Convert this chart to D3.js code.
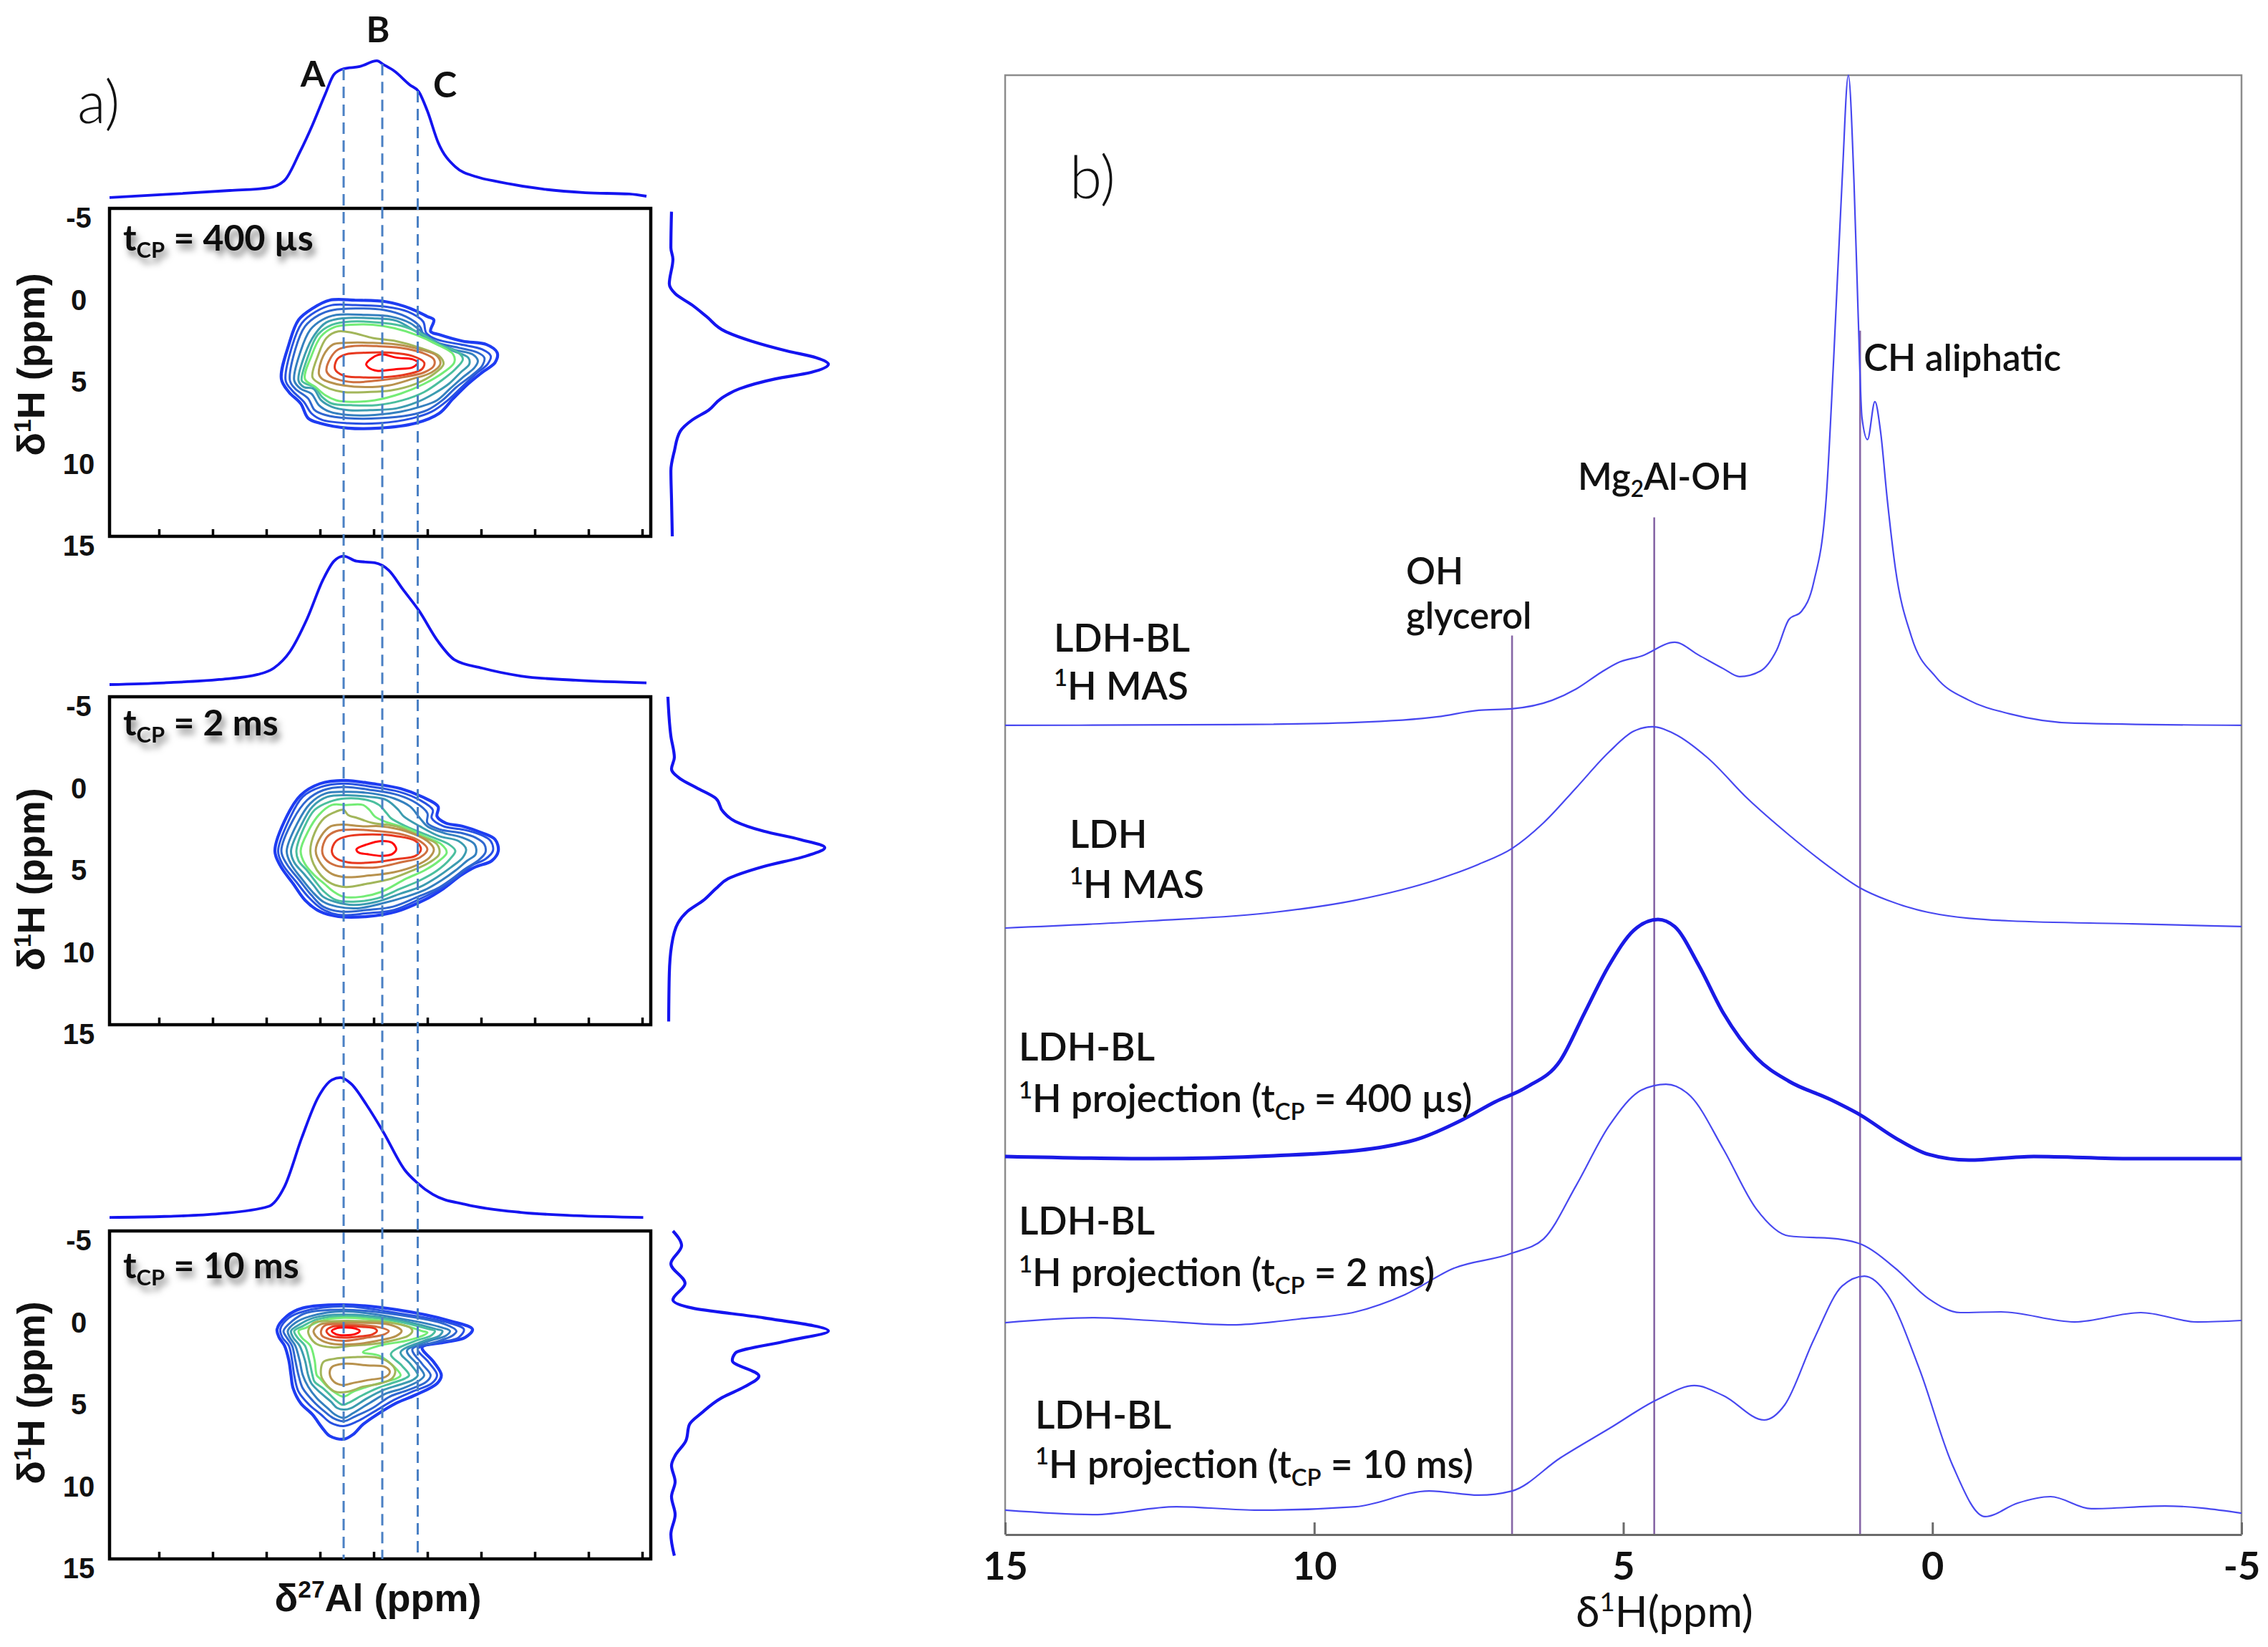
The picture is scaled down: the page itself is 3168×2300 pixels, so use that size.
<!DOCTYPE html>
<html><head><meta charset="utf-8">
<script src="https://cdn.jsdelivr.net/npm/d3@7"></script>
<style>body{margin:0;background:#fff}svg{display:block}</style>
</head><body>
<svg id="c" width="3168" height="2300"></svg>
<script>
// ---------------- DATA ----------------
const alTicks = [30,25,20,15,10,5,0,-5,-10,-15];      // 27Al axis ticks (unlabelled)
const hTicks = [-5,0,5,10,15];                          // 1H axis ticks (panel a)
const bTicks = [15,10,5,0,-5];                          // 1H axis ticks (panel b)
const alMarkers = [["A",12.8],["B",9.2],["C",5.9]];     // dashed 27Al positions
const tcpLabels = ["400 µs","2 ms","10 ms"];

// 27Al projections [ppm, intensity]
const alProj400 = [[34.6,-1],[28.7,1.6],[23.4,4.2],[19.7,6.3],[18.3,11.6],[16.9,32],[15.7,52.4],[14.5,75.3],[13.7,89.5],[12.8,93.7],[11.3,95.3],[9.7,99.5],[9.1,96.8],[8.1,92.1],[6.6,81.6],[5.8,76.8],[5.0,62.6],[4.0,39.5],[2.4,21.6],[0.4,14.2],[-1.7,10.5],[-5.7,5.3],[-9.7,2.6],[-13.8,1.6],[-15.4,0]];
const alProj2ms = [[34.6,0],[29.5,1.3],[24.4,3.7],[20.8,7.4],[19.3,12.1],[17.8,24.2],[16.2,48.4],[14.7,77.4],[13.7,90.7],[12.8,94.4],[11.6,90.7],[9.9,89.5],[8.6,84],[7.3,70.2],[5.8,54.5],[4.0,31.6],[2.5,18.4],[-0.1,12.1],[-3.7,6.3],[-8.8,3.2],[-15.4,1.3]];
const alProj10ms = [[34.6,1],[29.5,1.7],[24.4,3.7],[19.8,9.1],[18.3,23.8],[16.7,59.5],[15.2,88.9],[13.9,102],[13.1,103.7],[12.1,99.2],[10.6,82.9],[9.1,63.7],[7.1,35.8],[6.0,26.8],[4.5,17.9],[1.4,10.5],[-3.7,4.7],[-8.8,2.3],[-15.1,1]];

// 1H projections [ppm, intensity]
const hProj400 = [[-4.8,0.9],[-2.6,0.5],[-1.9,1.8],[-0.4,-0.5],[0.2,3.2],[0.9,14.1],[1.6,23.2],[2.5,35],[3.1,51.8],[3.7,74.5],[4.1,92.7],[4.5,100.5],[5.0,89.5],[5.4,66.8],[6.0,44.1],[6.6,32.3],[7.3,24.5],[7.9,14.1],[8.6,6.4],[9.8,2.7],[11.0,0.5],[12.7,0.9],[15.0,1.4]];
const hProj2ms = [[-5,-1.4],[-2.6,0.5],[-1.3,2.7],[-0.6,0.9],[0.0,6.4],[0.55,16.8],[1.2,29.1],[2.0,33.6],[2.6,41.4],[3.2,59.5],[3.7,82.3],[4.2,98.2],[4.7,86.8],[5.35,59.5],[6.1,36.8],[6.7,29.1],[7.4,21.4],[8.1,10.9],[8.8,5],[10.2,0.9],[11.9,-0.5],[14.8,-0.9]];
const hProj10ms = [[-5.0,1.8],[-4.1,7.3],[-3.0,0.5],[-1.8,9.5],[-0.8,1.8],[-0.3,14.1],[0.3,59.5],[1.1,100.5],[1.7,74.5],[2.45,41.4],[2.9,39.5],[3.85,56.4],[4.5,47.3],[5.2,32.3],[6.1,20],[6.8,12.3],[7.8,10],[8.7,3.2],[9.3,0.9],[10.3,3.2],[11.2,0.9],[12.3,3.2],[13.5,0.5],[14.8,2.7]];

// contour rings [level, [[27Al ppm, 1H ppm], ...]]
const rings400 = [
[1,[[18.6,5.4],[17.9,3.3],[17.0,1.8],[15.7,1.1],[14.1,0.6],[11.7,0.6],[8.8,0.7],[6.6,1.1],[5.0,1.6],[4.4,1.8],[4.7,2.5],[3.9,2.7],[1.7,3.1],[-0.5,3.3],[-1.5,3.8],[-1.3,4.4],[-0.1,5.0],[1.2,5.7],[2.6,6.6],[3.9,7.5],[6.1,8.1],[9.5,8.4],[12.4,8.4],[15.0,8.1],[16.1,7.8],[16.8,6.9],[17.9,6.2]]],
[2,[[18.2,5.5],[17.6,3.4],[16.7,2.0],[15.4,1.3],[13.9,0.9],[11.7,0.9],[8.8,1.0],[6.8,1.3],[5.4,1.9],[5.1,2.6],[4.1,3.0],[1.9,3.3],[-0.1,3.6],[-0.9,4.0],[-0.6,4.5],[0.5,5.1],[1.8,5.9],[3.1,6.7],[4.6,7.4],[6.4,7.8],[9.5,8.1],[12.4,8.1],[14.8,7.9],[15.8,7.5],[16.5,6.8],[17.6,6.1]]],
[3,[[17.8,5.5],[17.3,3.6],[16.4,2.2],[15.1,1.5],[13.8,1.2],[11.7,1.1],[9.0,1.2],[7.0,1.6],[5.7,2.2],[5.3,2.8],[4.1,3.2],[2.1,3.5],[0.3,3.8],[-0.3,4.1],[-0.1,4.6],[0.9,5.2],[2.3,5.9],[3.6,6.7],[5.0,7.3],[6.6,7.6],[9.5,7.8],[12.4,7.8],[14.5,7.6],[15.5,7.3],[16.1,6.6],[17.3,6.0]]],
[4,[[17.4,5.5],[16.8,3.7],[15.9,2.4],[14.8,1.8],[13.5,1.5],[10.6,1.5],[8.4,1.6],[6.6,2.0],[4.8,2.9],[2.6,3.6],[0.8,3.9],[0.3,4.3],[0.6,4.7],[1.7,5.3],[2.9,6.0],[4.1,6.7],[5.7,7.1],[7.5,7.4],[9.9,7.6],[12.4,7.6],[14.1,7.4],[15.1,7.0],[15.8,6.3],[16.8,6.0]]],
[5,[[17.0,5.5],[16.4,3.9],[15.5,2.7],[14.4,1.95],[12.8,1.7],[10.1,1.7],[7.9,1.85],[6.1,2.5],[4.4,3.2],[2.6,3.7],[1.2,4.1],[1.1,4.5],[1.9,5.0],[3.0,5.7],[4.4,6.3],[5.9,6.8],[7.9,7.2],[10.1,7.3],[12.4,7.3],[13.9,7.1],[14.9,6.7],[15.6,6.0],[16.5,5.9]]],
[6,[[16.7,5.5],[16.1,4.0],[15.2,2.7],[13.9,2.1],[12.1,1.9],[9.7,1.95],[7.5,2.15],[5.7,2.6],[3.9,3.3],[2.1,3.8],[1.7,4.2],[2.4,4.8],[3.7,5.5],[5.3,6.2],[7.3,6.7],[9.7,7.0],[12.1,7.0],[13.9,6.9],[14.8,6.5],[15.5,5.9],[16.3,5.7]]],
[7,[[16.4,5.4],[15.8,4.0],[14.9,2.8],[13.7,2.25],[12.1,2.1],[10.1,2.1],[8.1,2.3],[6.1,2.7],[4.1,3.3],[2.6,3.9],[2.5,4.4],[3.5,5.0],[5.3,5.7],[7.5,6.3],[9.9,6.7],[12.1,6.8],[13.5,6.7],[14.5,6.4],[15.4,5.9]]],
[8,[[15.7,5.3],[15.2,4.0],[14.4,2.9],[13.3,2.5],[11.9,2.6],[10.1,2.9],[7.9,3.1],[5.7,3.5],[3.9,4.0],[3.5,4.5],[4.4,5.1],[6.1,5.7],[8.4,6.1],[10.6,6.2],[12.8,6.2],[14.1,6.0],[15.0,5.7]]],
[9,[[15.1,5.1],[14.7,4.0],[13.8,3.3],[12.6,3.2],[10.1,3.2],[7.9,3.3],[5.7,3.6],[4.1,4.0],[3.8,4.5],[4.6,5.0],[6.4,5.4],[8.6,5.8],[10.8,5.9],[12.8,5.8],[14.1,5.6],[14.8,5.4]]],
[10,[[14.4,4.9],[14.0,4.1],[13.3,3.6],[11.9,3.4],[9.7,3.4],[7.5,3.5],[5.5,3.8],[4.4,4.2],[4.4,4.6],[5.3,5.0],[7.3,5.3],[9.7,5.5],[11.9,5.6],[13.5,5.4],[14.1,5.2]]],
[11,[[13.6,4.8],[13.4,4.2],[12.6,3.9],[10.6,3.8],[8.4,3.8],[6.4,4.0],[5.3,4.4],[5.5,4.8],[6.8,5.1],[9.0,5.3],[11.3,5.3],[12.8,5.2]]],
[12,[[10.7,4.5],[10.1,4.1],[9.3,3.9],[7.9,4.1],[6.4,4.2],[5.9,4.4],[6.4,4.7],[7.9,4.8],[9.7,4.9],[10.5,4.7]]]
];
const rings2ms = [
[1,[[19.2,4.4],[18.1,2.3],[16.8,1.0],[15.0,0.3],[12.8,0.1],[10.1,0.3],[7.5,0.6],[5.5,1.1],[4.0,1.7],[4.1,2.3],[3.3,2.7],[1.7,2.9],[-0.1,3.3],[-1.3,3.7],[-1.6,4.4],[-1.0,5.0],[0.6,5.4],[1.9,5.9],[3.5,6.7],[5.3,7.4],[7.9,8.1],[10.6,8.4],[13.3,8.4],[15.0,8.1],[16.4,7.4],[17.5,6.4],[18.7,5.3]]],
[2,[[18.9,4.4],[17.8,2.4],[16.6,1.1],[14.9,0.5],[12.8,0.3],[10.1,0.5],[7.6,0.8],[5.7,1.3],[4.5,1.9],[4.6,2.4],[3.5,2.9],[1.7,3.1],[0.1,3.4],[-0.9,3.8],[-1.1,4.4],[-0.4,4.9],[0.9,5.3],[2.2,6.0],[3.8,6.7],[5.6,7.3],[8.1,8.0],[10.6,8.2],[13.3,8.3],[14.9,7.9],[16.1,7.2],[17.2,6.3],[18.5,5.2]]],
[3,[[18.6,4.4],[17.5,2.5],[16.2,1.3],[14.7,0.7],[12.8,0.5],[10.1,0.7],[7.7,1.0],[6.0,1.5],[5.0,2.1],[5.0,2.7],[3.8,3.1],[1.9,3.3],[0.5,3.6],[-0.3,4.0],[-0.4,4.5],[0.3,5.0],[1.5,5.5],[2.7,6.1],[4.1,6.7],[5.9,7.2],[8.2,7.8],[10.6,8.0],[13.1,8.1],[14.7,7.8],[15.8,7.1],[16.9,6.2],[18.1,5.2]]],
[4,[[18.1,4.4],[17.1,2.7],[15.9,1.5],[14.5,0.9],[12.6,0.8],[10.1,0.9],[8.1,1.2],[6.6,1.7],[5.7,2.4],[5.0,2.9],[3.5,3.3],[1.7,3.6],[0.6,4.0],[0.5,4.6],[1.3,5.0],[2.4,5.6],[3.7,6.2],[5.3,6.8],[7.0,7.2],[9.2,7.6],[11.5,7.9],[13.4,7.8],[14.7,7.5],[15.7,6.9],[16.7,6.1],[17.7,5.2]]],
[5,[[17.7,4.4],[16.8,2.9],[15.7,1.7],[14.3,1.1],[12.6,1.0],[10.4,1.1],[8.8,1.3],[7.7,1.9],[7.2,2.3],[5.7,2.9],[3.9,3.5],[2.1,3.8],[1.4,4.3],[1.7,4.8],[2.8,5.4],[4.1,6.0],[5.7,6.6],[7.5,7.0],[9.7,7.5],[11.9,7.7],[13.6,7.5],[14.7,7.2],[15.6,6.5],[16.5,5.8],[17.4,5.1]]],
[6,[[17.2,4.4],[16.5,3.0],[15.5,1.9],[14.1,1.4],[12.6,1.2],[10.6,1.3],[9.5,1.6],[8.8,2.1],[8.4,2.4],[7.0,2.9],[4.8,3.5],[3.0,4.0],[2.4,4.4],[2.9,4.9],[4.1,5.6],[5.7,6.2],[7.5,6.7],[9.7,7.3],[11.9,7.5],[13.5,7.4],[14.6,6.9],[15.5,6.2],[16.2,5.6],[17.0,5.0]]],
[7,[[16.8,4.4],[16.1,3.2],[15.1,2.2],[13.9,1.6],[12.6,1.6],[11.0,1.6],[10.4,1.9],[9.9,2.3],[9.0,2.6],[7.0,3.0],[5.0,3.6],[3.7,4.0],[3.2,4.5],[3.9,5.0],[5.3,5.6],[7.0,6.1],[9.3,6.9],[11.2,7.2],[12.8,7.2],[13.7,6.9],[14.6,6.4],[15.5,5.9],[16.4,5.2]]],
[8,[[15.9,4.4],[15.5,3.3],[14.6,2.4],[13.5,2.0],[12.8,1.9],[12.4,2.2],[11.5,2.4],[10.1,2.7],[7.9,2.9],[5.7,3.5],[4.1,4.0],[3.9,4.6],[4.8,5.1],[6.4,5.6],[8.4,6.1],[10.6,6.4],[12.6,6.6],[13.9,6.4],[14.9,5.9],[15.6,5.2]]],
[9,[[15.4,4.4],[14.9,3.5],[14.0,2.9],[13.0,2.8],[11.0,2.9],[9.3,2.9],[7.0,3.2],[5.0,3.8],[4.4,4.3],[4.8,4.8],[6.1,5.3],[8.1,5.7],[10.4,5.9],[12.6,6.0],[13.9,5.8],[14.9,5.2]]],
[10,[[14.8,4.4],[14.4,3.6],[13.5,3.2],[11.7,3.1],[9.5,3.2],[7.3,3.4],[5.7,3.8],[5.0,4.3],[5.7,4.8],[7.5,5.1],[9.7,5.4],[11.9,5.4],[13.5,5.3],[14.5,4.9]]],
[11,[[13.9,4.4],[13.5,3.8],[12.4,3.5],[10.1,3.4],[7.9,3.5],[6.1,3.8],[5.6,4.3],[6.1,4.7],[7.9,4.9],[10.1,5.1],[12.4,5.1],[13.6,4.8]]],
[12,[[11.6,4.3],[10.6,4.0],[9.3,3.8],[8.3,3.9],[7.9,4.3],[8.3,4.6],[9.3,4.7],[10.6,4.6],[11.4,4.5]]]
];
const rings10ms = [
[1,[[19.0,1.0],[18.1,0.2],[16.6,-0.3],[12.8,-0.5],[7.9,-0.2],[2.8,0.5],[0.8,1.0],[1.5,1.5],[3.5,1.8],[5.5,2.1],[4.4,3.0],[3.7,3.8],[4.1,4.3],[6.1,5.0],[7.9,5.5],[9.7,6.2],[11.0,6.8],[11.9,7.4],[12.8,7.7],[14.1,7.5],[14.8,7.0],[15.7,6.2],[16.8,5.5],[17.5,4.6],[17.7,3.8],[17.9,2.9],[18.3,2.0],[18.8,1.5]]],
[2,[[18.7,1.0],[17.9,0.3],[16.5,-0.1],[12.8,-0.4],[7.9,0.0],[3.0,0.6],[1.6,1.0],[2.1,1.5],[3.9,1.8],[5.9,2.2],[4.9,3.0],[4.1,3.8],[4.6,4.3],[6.4,4.8],[8.1,5.3],[9.9,6.0],[11.5,6.6],[12.8,6.9],[14.0,6.7],[14.9,6.2],[16.0,5.6],[17.0,4.8],[17.4,3.8],[17.6,2.9],[17.9,2.0],[18.5,1.5]]],
[3,[[18.4,1.1],[17.6,0.5],[16.3,0.0],[12.8,-0.2],[7.9,0.1],[3.3,0.7],[2.3,1.1],[2.7,1.4],[4.4,1.8],[6.4,2.2],[5.5,3.1],[4.7,3.8],[5.1,4.2],[6.8,4.7],[8.5,5.1],[10.1,5.8],[11.7,6.3],[12.8,6.6],[13.8,6.4],[14.6,6.0],[15.6,5.4],[16.6,4.6],[17.0,3.8],[17.3,2.9],[17.6,2.0],[18.1,1.5]]],
[4,[[18.0,1.1],[17.3,0.6],[15.9,0.2],[12.8,-0.1],[7.9,0.3],[3.6,0.9],[2.9,1.1],[3.3,1.4],[4.8,1.7],[6.9,2.3],[6.0,3.1],[5.3,3.8],[5.7,4.1],[7.3,4.6],[8.8,4.9],[10.4,5.5],[11.9,6.1],[12.8,6.4],[13.6,6.2],[14.3,5.8],[15.3,5.2],[16.1,4.5],[16.6,3.8],[16.9,2.9],[17.3,2.0],[17.8,1.5]]],
[5,[[17.7,1.1],[16.9,0.7],[15.6,0.3],[12.8,0.1],[7.9,0.4],[4.1,1.0],[3.6,1.1],[3.9,1.4],[5.3,1.7],[7.5,2.4],[6.6,3.1],[5.9,3.8],[6.4,4.1],[7.7,4.4],[9.1,4.7],[10.6,5.2],[12.1,5.8],[12.8,5.9],[13.4,5.8],[14.0,5.4],[14.9,4.9],[15.8,4.3],[16.1,3.8],[16.4,2.9],[16.9,2.0],[17.5,1.5]]],
[6,[[17.4,1.1],[16.6,0.8],[15.3,0.4],[12.8,0.2],[7.9,0.5],[4.8,1.0],[4.3,1.1],[4.7,1.4],[6.1,1.7],[8.4,2.5],[7.4,3.2],[6.7,3.8],[7.1,4.0],[8.4,4.3],[9.7,4.6],[11.0,5.0],[12.4,5.5],[12.9,5.6],[13.4,5.4],[13.9,5.1],[14.7,4.6],[15.5,4.2],[15.7,3.8],[16.0,2.9],[16.4,2.0],[17.1,1.5]]],
[7,[[17.0,1.1],[16.3,0.9],[15.0,0.5],[12.8,0.3],[8.1,0.6],[5.5,1.1],[5.0,1.2],[5.5,1.4],[7.0,1.7],[9.5,2.0],[11.0,2.4],[9.5,2.6],[8.4,3.1],[7.5,3.8],[7.9,4.0],[9.0,4.2],[10.6,4.5],[11.9,4.8],[12.8,5.1],[13.5,4.9],[14.3,4.5],[15.0,4.0],[15.3,3.8],[15.5,2.9],[15.9,2.0],[16.7,1.5]]],
[8,[[16.1,1.1],[15.6,0.6],[13.9,0.5],[10.8,0.5],[8.4,0.6],[6.6,0.9],[6.4,1.1],[6.8,1.4],[8.4,1.7],[10.1,1.9],[12.1,2.0],[13.9,2.1],[15.3,1.9],[15.9,1.5]]],
[8,[[14.9,3.8],[14.7,3.0],[13.7,2.8],[11.9,2.7],[9.9,2.7],[8.6,3.0],[8.0,3.5],[8.3,4.0],[9.4,4.3],[11.0,4.5],[12.4,4.8],[13.6,4.8],[14.5,4.3]]],
[9,[[15.6,1.1],[15.0,0.7],[13.5,0.6],[10.8,0.6],[8.6,0.7],[7.5,1.0],[7.4,1.1],[7.9,1.4],[9.7,1.7],[11.7,1.9],[13.7,1.9],[14.8,1.7],[15.4,1.4]]],
[9,[[14.1,3.7],[13.9,3.3],[12.8,3.1],[10.6,3.2],[8.9,3.3],[8.5,3.6],[8.9,3.9],[10.6,4.1],[12.1,4.3],[12.9,4.4],[13.7,4.2]]],
[10,[[14.9,1.1],[14.5,0.75],[13.0,0.7],[10.8,0.75],[9.3,0.9],[8.6,1.1],[9.0,1.3],[10.6,1.5],[12.6,1.7],[14.1,1.6],[14.8,1.4]]],
[11,[[14.4,1.1],[13.9,0.85],[12.8,0.8],[11.0,0.85],[9.9,0.95],[9.7,1.1],[10.1,1.3],[11.5,1.45],[13.0,1.5],[14.0,1.4]]],
[12,[[13.9,1.1],[13.4,0.92],[12.6,0.88],[11.7,0.95],[11.3,1.1],[11.7,1.28],[12.7,1.36],[13.5,1.3]]]
];

// panel b : 1H spectra [ppm, intensity above own baseline]
const specNames = ["LDH-BL 1H MAS","LDH 1H MAS","tCP 400 µs","tCP 2 ms","tCP 10 ms"];
const specOffsets = [554.5, 415.6, 258.6, 145.7, 16.2];
const specLdhBlMas = [[15,0],[11.32,0.5],[9.33,2.0],[8.0,5.9],[7.34,10.3],[6.81,11.3],[6.15,17.2],[5.76,25.0],[5.36,36.3],[5.1,42.7],[4.7,47.6],[4.17,56.9],[3.78,48.1],[3.38,38.8],[3.12,33.4],[2.78,37.3],[2.52,51.5],[2.32,72.6],[2.12,78.0],[1.92,98.1],[1.72,154.6],[1.6,248.8],[1.46,373.9],[1.36,445.5],[1.27,373.9],[1.2,279.7],[1.14,211.0],[1.05,195.8],[0.93,221.8],[0.84,201.7],[0.73,154.6],[0.6,107.9],[0.34,60.8],[-0.06,32.9],[-0.59,17.2],[-1.25,7.9],[-2.3,1.5],[-5,0]];
const specLdhMas = [[15,0],[12.64,4.9],[10.65,10.8],[9.33,19.1],[8.0,33.4],[7.34,43.7],[6.8,54.5],[6.29,72.1],[5.76,96.2],[5.23,120.7],[4.83,134.9],[4.53,137.9],[4.17,133.0],[3.64,116.8],[2.98,88.3],[2.32,63.8],[1.66,41.7],[1.17,27.5],[0.73,19.1],[0.07,10.8],[-1.25,4.9],[-3.23,2.9],[-5,1.0]];
const spec400 = [[15,0.5],[12.64,-1.0],[10.65,1.0],[9.06,5.9],[8.27,13.2],[7.61,25.5],[7.08,37.8],[6.56,48.1],[6.02,66.2],[5.63,98.6],[5.23,131.5],[4.83,155.5],[4.44,162.9],[4.17,158.0],[3.78,131.5],[3.38,98.6],[2.85,68.2],[2.32,52.0],[1.66,39.7],[1.17,29.0],[0.6,13.2],[0.07,2.0],[-0.59,-2.0],[-1.64,0.5],[-3.23,-1.0],[-5,-1.0]];
const spec2ms = [[15,-0.5],[13.56,2.9],[12.64,1.0],[11.32,-2.0],[10.25,2.0],[9.33,6.9],[8.54,18.6],[7.74,36.8],[6.8,47.1],[6.29,56.9],[5.76,93.7],[5.23,134.4],[4.7,159.0],[4.31,162.9],[3.91,154.6],[3.38,118.3],[2.85,77.5],[2.32,58.9],[1.53,56.9],[1.14,53.0],[0.6,36.8],[0.07,16.2],[-0.45,6.4],[-1.11,6.9],[-2.3,0],[-3.37,6.4],[-4.29,0],[-5,1.0]];
const spec10ms = [[15,0.5],[13.56,-2.5],[12.23,2.9],[10.91,0.5],[9.33,2.9],[8.14,13.7],[7.34,10.8],[6.8,13.7],[6.02,36.3],[5.23,56.4],[4.44,76.5],[3.85,85.9],[3.38,79.0],[2.72,62.3],[2.39,72.6],[1.92,117.3],[1.46,154.1],[1.1,160.9],[0.73,148.2],[0.21,97.2],[-0.32,31.9],[-0.85,-3.9],[-1.38,5.4],[-1.91,9.8],[-2.57,1.5],[-3.76,3.4],[-5,-1.5]];
const assignPpm = [6.8, 4.5, 1.17];          // OH glycerol, Mg2Al-OH, CH aliphatic
const assignTop = [616, 697, 825];           // top of each marker line (intensity units)

// ---------------- LAYOUT ----------------
const svg = d3.select("#c");
svg.append("rect").attr("width",3168).attr("height",2300).attr("fill","#fff");
const defs = svg.append("defs");
defs.append("filter").attr("id","sh").attr("x","-20%").attr("y","-50%").attr("width","150%").attr("height","220%")
  .append("feDropShadow").attr("dx",4).attr("dy",8).attr("stdDeviation",5).attr("flood-color","#000").attr("flood-opacity",0.5);

const ringColors = ["#1e3cf2","#2852e2","#2f67d0","#3480bf","#3c9cb0","#4bbf9e","#74ec76","#a2b65a","#b8924e","#cf7040","#e8381f","#ff0808"];
const PROJ = "#1414f0";
const FA = "'Liberation Sans', Arial, sans-serif";
const FL = "Lato, 'Open Sans', sans-serif";

function rich(sel, x, y, parts, size, attrs){
  const t = sel.append("text").attr("x",x).attr("y",y).attr("font-size",size);
  Object.entries(attrs||{}).forEach(([k,v])=>t.attr(k,v));
  let shift = 0;
  parts.forEach(p=>{
    const target = p.sup ? -0.36*size : p.sub ? 0.2*size : 0;
    const ts = t.append("tspan").text(p.t).attr("dy", target-shift);
    if(p.sup||p.sub) ts.attr("font-size", size*0.62);
    shift = target;
  });
  return t;
}
function interp(arr, x){
  for(let i=0;i<arr.length-1;i++){
    const a=arr[i], b=arr[i+1];
    if((x<=a[0]&&x>=b[0])||(x>=a[0]&&x<=b[0])){ const f=(x-a[0])/(b[0]-a[0]); return a[1]+f*(b[1]-a[1]); }
  }
  return 0;
}

// ---------- panel a ----------
const boxL=153, boxR=909, boxH=458;
const boxTops=[291,973,1719];
const xAl = d3.scaleLinear().domain([34.6,-15.8]).range([boxL,boxR]);
const xR = d3.scaleLinear().domain([0,100]).range([936,1156]);
const panels = [
  {top:boxTops[0], proj:alProj400, hproj:hProj400, rings:rings400, lab:tcpLabels[0], ly:350, ty:509},
  {top:boxTops[1], proj:alProj2ms, hproj:hProj2ms, rings:rings2ms, lab:tcpLabels[1], ly:1027, ty:1228},
  {top:boxTops[2], proj:alProj10ms, hproj:hProj10ms, rings:rings10ms, lab:tcpLabels[2], ly:1785, ty:1945}
];
const ga = svg.append("g");
panels.forEach((P,i)=>{
  const yH = d3.scaleLinear().domain([-5,15]).range([P.top, P.top+boxH]);
  const yP = d3.scaleLinear().domain([0,100]).range([P.top-17, P.top-17-190]);
  P.yP = yP;
  ga.append("path").datum(P.proj).attr("fill","none").attr("stroke",PROJ).attr("stroke-width",3.8)
    .attr("stroke-linejoin","round")
    .attr("d", d3.line().x(d=>xAl(d[0])).y(d=>yP(d[1])).curve(d3.curveMonotoneX));
  ga.append("path").datum(P.hproj).attr("fill","none").attr("stroke",PROJ).attr("stroke-width",4.2)
    .attr("stroke-linejoin","round")
    .attr("d", d3.line().x(d=>xR(d[1])).y(d=>yH(d[0])).curve(d3.curveMonotoneY));
  const rl = d3.line().x(d=>xAl(d[0])).y(d=>yH(d[1])).curve(d3.curveCatmullRomClosed.alpha(0.5));
  ga.append("g").selectAll("path").data(P.rings).join("path")
    .attr("fill","none").attr("stroke",d=>ringColors[d[0]-1])
    .attr("stroke-width",d=>d[0]===1?4.2:3).attr("stroke-linejoin","round")
    .attr("d",d=>rl(d[1]));
  ga.append("rect").attr("x",boxL).attr("y",P.top).attr("width",boxR-boxL).attr("height",boxH)
    .attr("fill","none").attr("stroke","#000").attr("stroke-width",4.5);
  const ax = ga.append("g").attr("transform",`translate(0,${P.top+boxH})`)
    .call(d3.axisBottom(xAl).tickValues(alTicks).tickSizeInner(-10).tickSizeOuter(0).tickFormat(""));
  ax.select(".domain").remove();
  ax.selectAll(".tick line").attr("stroke","#000").attr("stroke-width",3.5);
  ga.append("g").selectAll("text").data(hTicks).join("text")
    .attr("x",110).attr("y",d=>yH(d)+27).attr("text-anchor","middle")
    .attr("font-family",FA).attr("font-weight",700).attr("font-size",40).attr("fill","#111")
    .text(d=>String(d));
  const tt = rich(ga, 0, 0, [{t:"δ"},{t:"1",sup:1},{t:"H (ppm)"}], 54,
    {"font-family":FA,"font-weight":700,"text-anchor":"middle","fill":"#111"});
  tt.attr("transform",`translate(62,${P.ty}) rotate(-90)`);
  rich(ga, 172, P.ly, [{t:"t"},{t:"CP",sub:1},{t:" = "+P.lab}], 50,
    {"font-family":FL,"font-weight":700,"fill":"#111","filter":"url(#sh)"});
});
alMarkers.forEach(([n,v])=>{
  const y0 = panels[0].yP(interp(alProj400, v));
  ga.append("line").attr("x1",xAl(v)).attr("x2",xAl(v)).attr("y1",y0).attr("y2",boxTops[2]+boxH)
    .attr("stroke","#4a80c4").attr("stroke-width",3).attr("stroke-dasharray","16,9");
});
const abcOff = {A:[-43,121],B:[-6,59],C:[38,136]};
alMarkers.forEach(([n,v])=>{
  ga.append("text").attr("x",xAl(v)+abcOff[n][0]).attr("y",abcOff[n][1]).attr("text-anchor","middle")
    .attr("font-family",FL).attr("font-weight",700).attr("font-size",50).attr("fill","#111").text(n);
});
ga.append("text").attr("x",108).attr("y",172).attr("font-family",FL).attr("font-weight",300)
  .attr("font-size",82).attr("fill","#111").text("a)");
rich(ga, 528, 2250, [{t:"δ"},{t:"27",sup:1},{t:"Al (ppm)"}], 54,
  {"font-family":FA,"font-weight":700,"text-anchor":"middle","fill":"#111"});

// ---------- panel b ----------
const xb = d3.scaleLinear().domain([15,-5]).range([1404,3131]);
const yb = d3.scaleLinear().domain([0,1000]).range([2143,105]);
const gb = svg.append("g");
gb.append("path").attr("d",`M${xb(15)},${yb(0)}V${yb(1000)}H${xb(-5)}V${yb(0)}`)
  .attr("fill","none").attr("stroke","#8c8c8c").attr("stroke-width",2.5);
assignPpm.forEach((v,i)=>{
  gb.append("line").attr("x1",xb(v)).attr("x2",xb(v)).attr("y1",yb(assignTop[i])).attr("y2",yb(0))
    .attr("stroke","#8666a6").attr("stroke-width",2.6);
});
const specs = [specLdhBlMas, specLdhMas, spec400, spec2ms, spec10ms];
specs.forEach((s,i)=>{
  const thick = i===2;
  gb.append("path").datum(s).attr("fill","none")
    .attr("stroke", thick?"#1a1ae6":"#4848f0").attr("stroke-width", thick?5:2.2)
    .attr("stroke-linejoin","round")
    .attr("d", d3.line().x(d=>xb(d[0])).y(d=>yb(d[1]+specOffsets[i])).curve(d3.curveMonotoneX));
});
const axb = gb.append("g").attr("transform",`translate(0,${yb(0)})`)
  .call(d3.axisBottom(xb).tickValues(bTicks).tickSizeInner(-17).tickSizeOuter(0).tickFormat(d=>String(d)));
axb.select(".domain").attr("stroke","#6b6b6b").attr("stroke-width",3);
axb.selectAll(".tick line").attr("stroke","#6b6b6b").attr("stroke-width",3);
axb.selectAll(".tick text").attr("y",63).attr("dy",0).attr("font-family",FL).attr("font-weight",700)
  .attr("font-size",54).attr("fill","#111");
rich(gb, 2325, 2272, [{t:"δ"},{t:"1",sup:1},{t:"H(ppm)"}], 60,
  {"font-family":FL,"text-anchor":"middle","fill":"#111"});
gb.append("text").attr("x",1494).attr("y",277).attr("font-family",FL).attr("font-weight",300)
  .attr("font-size",82).attr("fill","#111").text("b)");

const LS = 53, lat = {"font-family":FL,"font-weight":600,"fill":"#111"};
const proj = tc=>[{t:"1",sup:1},{t:"H projection (t"},{t:"CP",sub:1},{t:" = "+tc+")"}];
rich(gb,1472,910,[{t:"LDH-BL"}],LS,lat);
rich(gb,1472,977,[{t:"1",sup:1},{t:"H MAS"}],LS,lat);
rich(gb,1494,1184,[{t:"LDH"}],LS,lat);
rich(gb,1494,1254,[{t:"1",sup:1},{t:"H MAS"}],LS,lat);
rich(gb,1423,1481,[{t:"LDH-BL"}],LS,lat);
rich(gb,1423,1553,proj(tcpLabels[0]),LS,lat);
rich(gb,1423,1724,[{t:"LDH-BL"}],LS,lat);
rich(gb,1423,1796,proj(tcpLabels[1]),LS,lat);
rich(gb,1446,1995,[{t:"LDH-BL"}],LS,lat);
rich(gb,1446,2064,proj(tcpLabels[2]),LS,lat);
rich(gb,xb(assignPpm[2])+5,518,[{t:"CH aliphatic"}],51,lat);
rich(gb,2204,684,[{t:"Mg"},{t:"2",sub:1},{t:"Al-OH"}],51,lat);
rich(gb,1964,816,[{t:"OH"}],51,lat);
rich(gb,1964,878,[{t:"glycerol"}],51,lat);
</script></body></html>
